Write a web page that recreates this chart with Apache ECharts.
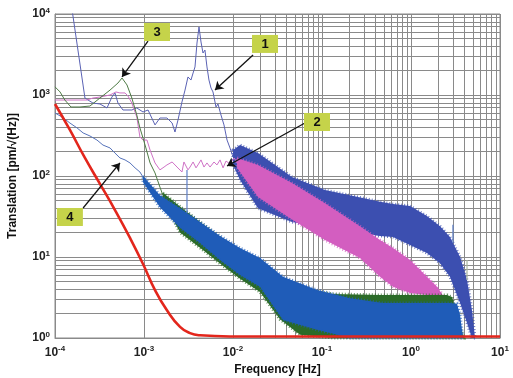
<!DOCTYPE html>
<html>
<head>
<meta charset="utf-8">
<script src="https://cdn.jsdelivr.net/npm/echarts/dist/echarts.min.js"></script>
<style>
html,body{margin:0;padding:0;background:#fff}
#chart{width:513px;height:378px}
</style>
</head>
<body>
<div id="chart"></div>
<script>
// frequency [Hz], value [pm/sqrt(Hz)]
var trace1Line = [[1.47e-4,17200],[2.17e-4,918],[2.35e-4,867],[2.67e-4,796],[3.2e-4,774],[3.84e-4,692],[4.36e-4,944],[4.72e-4,1060],[5.1e-4,796],[5.8e-4,653],[7.3e-4,653],[8.3e-4,692],[9.75e-4,617],[1.11e-3,653],[1.33e-3,427],[1.51e-3,520],[1.81e-3,520],[2.07e-3,451],[2.23e-3,349],[2.41e-3,491],[2.67e-3,820],[2.89e-3,1150],[3.12e-3,1670],[3.37e-3,1530],[3.56e-3,1870],[3.74e-3,2220],[3.94e-3,4380],[4.15e-3,6920],[4.37e-3,4510],[4.6e-3,3300],[4.84e-3,3590],[5.1e-3,2220],[5.37e-3,1530],[5.66e-3,1220],[5.96e-3,1090],[6.44e-3,711],[6.78e-3,774],[7.33e-3,566],[7.92e-3,427],[8.57e-3,278],[9.25e-3,222],[1e-2,172]];
// noisy part: [frequency, low edge, high edge]
var trace1Band = [[1e-2,137,209],[1.2e-2,89,241],[1.91e-2,40,192],[4.6e-2,27,97],[0.108,22.8,67],[0.254,19.8,55],[0.449,18.2,48],[0.628,17.7,45],[0.975,14.1,42.6],[1.51,11.2,32],[2.12,8.4,24],[2.74,5.7,17.7],[3.56,2.7,10],[4.26,1.53,5.2],[4.84,1.0,2.2],[5.24,1.0,1.0]];

var trace2Line = [[1e-4,867],[2.29e-4,867],[2.67e-4,918],[3.2e-4,944],[4.15e-4,1000],[4.84e-4,1090],[5.37e-4,1060],[6.12e-4,1060],[6.6e-4,972],[7.3e-4,796],[8.3e-4,535],[9.0e-4,303],[9.75e-4,278],[1.08e-3,278],[1.17e-3,209],[1.33e-3,145],[1.51e-3,119],[1.68e-3,129],[1.81e-3,137],[2.07e-3,149],[2.35e-3,129],[2.67e-3,112],[2.81e-3,149],[3.12e-3,119],[3.29e-3,129],[3.56e-3,149],[3.84e-3,126],[4.04e-3,137],[4.37e-3,158],[4.72e-3,129],[5.1e-3,145],[5.52e-3,129],[6.12e-3,149],[6.6e-3,137],[7.15e-3,158],[7.73e-3,126],[8.35e-3,153],[9.25e-3,141],[1.03e-2,167],[1.11e-2,145]];
var trace2Band = [[1.11e-2,126,167],[1.91e-2,55,137],[4.6e-2,29,82],[0.108,16.2,46],[0.267,9.7,24],[0.449,5.7,16.2],[0.628,4.3,12.9],[0.975,3.6,9.2],[1.51,3.4,5.7],[1.96,3.3,4.3],[2.23,3.3,3.5]];

var trace3Line = [[1e-4,1260],[1.14e-4,1090],[1.29e-4,867],[1.51e-4,711],[1.91e-4,711],[2.47e-4,731],[3.2e-4,918],[4.15e-4,1150],[5.1e-4,1406],[5.66e-4,1622],[6.44e-4,1330],[7.3e-4,918],[8.3e-4,566],[9.0e-4,392],[9.75e-4,294],[1.05e-3,222],[1.17e-3,145],[1.33e-3,109],[1.51e-3,73],[1.63e-3,58]];
var trace3Band = [[1.63e-3,51,62],[2.54e-3,20,42],[4.26e-3,13,27],[7.15e-3,8.3,17.5],[1.2e-2,5.4,11.5],[2.01e-2,3.7,8.2],[3.37e-2,1.7,5.6],[5.66e-2,1.1,4.0],[0.133,1.0,3.5],[0.449,1.0,3.4],[1.26,1.0,3.4],[2.54,1.0,3.4],[2.89,1.0,3.2],[3.2,1.0,2.2],[3.56,1.0,1.37],[3.94,1.0,1.0]];

var trace4Line = [[1e-4,600],[1.2e-4,535],[1.47e-4,451],[1.77e-4,392],[2.07e-4,340],[2.47e-4,312],[2.96e-4,278],[3.46e-4,241],[4.15e-4,222],[4.72e-4,192],[5.37e-4,167],[6.12e-4,158],[6.96e-4,145],[7.93e-4,126],[9.0e-4,112],[9.75e-4,97]];
var trace4Band = [[9.75e-4,84,100],[1.51e-3,41,58],[2.54e-3,23,40],[4.26e-3,14.9,27],[7.15e-3,9.2,18.2],[1.2e-2,6.0,12.9],[2.01e-2,4.3,9.7],[3.65e-2,1.67,5.7],[8.8e-2,1.26,3.9],[0.207,1.0,3.1],[0.484,1.0,2.7],[1.26,1.0,2.7],[2.74,1.0,2.7],[3.29,1.0,2.65],[3.56,1.0,1.92],[3.84,1.0,1.0]];

// single narrow spikes: [frequency, low, high]
var blueSpikes = [[3.04e-3,35,119],[2.96,15,25]];
var greySpikes = [[4.26,5.2,9.2]];

var redLine = [[1e-4,774],[1.47e-4,370],[2.17e-4,167],[3.2e-4,80],[4.72e-4,38],[6.96e-4,17.2],[9.75e-4,8.2],[1.33e-3,3.9],[1.81e-3,2.2],[2.54e-3,1.37],[3.29e-3,1.15],[4.26e-3,1.08],[9.2e-3,1.045],[10,1.045]];

// annotation boxes [label, frequency, value] and arrows [from, to]
var boxes = [['1',0.0229,4270],['2',0.0879,464],['3',1.4e-3,5990],['4',1.47e-4,31.2]];
var arrows = [
  [[0.0168,3120],[6.28e-3,1150]],
  [[0.0644,451],[8.57e-3,133]],
  [[1.11e-3,4640],[5.66e-4,1670]],
  [[2.07e-4,40.3],[5.37e-4,145]]
];

var FONT = 'Liberation Sans';
var GRID = '#8a8a8a';

// minor log grid (2..9 per decade)
var minorX = [], minorY = [];
for (var e = -4; e < 1; e++) for (var k = 2; k < 10; k++) minorX.push(k * Math.pow(10, e));
for (var e2 = 0; e2 < 4; e2++) for (var k2 = 2; k2 < 10; k2++) minorY.push(k2 * Math.pow(10, e2));
var gridLines = minorX.map(function (v) { return {xAxis: v}; })
  .concat(minorY.map(function (v) { return {yAxis: v}; }));

function powLabel(v) {
  var p = Math.round(Math.log10(v));
  return '{b|10}{s|' + p + '}';
}
var labelRich = {
  b: {fontFamily: FONT, fontWeight: 'bold', fontSize: 12, color: '#222', lineHeight: 15},
  s: {fontFamily: FONT, fontWeight: 'bold', fontSize: 8, color: '#222', verticalAlign: 'top', lineHeight: 9}
};

function lineSeries(data, color, width, z) {
  return {
    type: 'line', data: data, showSymbol: false, silent: true, z: z,
    lineStyle: {color: color, width: width}, itemStyle: {color: color},
    animation: false
  };
}

// filled band between low and high edges, with a ragged (dashed) outline for the noise
function bandSeries(band, color, z) {
  return {
    type: 'custom', data: band, silent: true, z: z, animation: false,
    encode: {x: 0, y: [1, 2]},
    renderItem: function (params, api) {
      if (params.dataIndex !== 0) return null;
      var top = [], bot = [];
      band.forEach(function (d) {
        top.push(api.coord([d[0], d[2]]));
        bot.unshift(api.coord([d[0], d[1]]));
      });
      var pts = top.concat(bot);
      return {
        type: 'group',
        children: [
          {type: 'polygon', shape: {points: pts}, style: {fill: color}},
          {type: 'polygon', shape: {points: pts},
            style: {fill: null, stroke: color, lineWidth: 3, lineDash: [1, 2], opacity: 0.75}}
        ]
      };
    }
  };
}

function spikeSeries(data, color, z) {
  return {
    type: 'custom', data: data, silent: true, z: z, animation: false,
    encode: {x: 0, y: [1, 2]},
    renderItem: function (params, api) {
      var a = api.coord([api.value(0), api.value(1)]);
      var b = api.coord([api.value(0), api.value(2)]);
      return {type: 'line', shape: {x1: a[0], y1: a[1], x2: b[0], y2: b[1]},
        style: {stroke: color, lineWidth: 1.2}};
    }
  };
}

var chart = echarts.init(document.getElementById('chart'), null, {renderer: 'canvas'});

var t1 = lineSeries(trace1Line, '#5a62b4', 1, 3);
t1.markLine = {
  silent: true, z: 1, symbol: ['none', 'none'], animation: false,
  label: {show: false},
  lineStyle: {color: GRID, width: 1, type: 'solid'},
  emphasis: {disabled: true},
  data: gridLines
};

var red = lineSeries(redLine, '#e3261c', 2.6, 12);
red.smooth = true;
red.markLine = {
  silent: true, z: 20, symbol: ['none', 'arrow'], symbolSize: 8, animation: false,
  label: {show: false},
  lineStyle: {color: '#111', width: 1.3, type: 'solid'},
  emphasis: {disabled: true},
  data: arrows.map(function (a) { return [{coord: a[0]}, {coord: a[1]}]; })
};
red.markPoint = {
  silent: true, z: 21, symbol: 'rect', symbolSize: [26, 18], animation: false,
  itemStyle: {color: '#c5d34a'},
  label: {show: true, position: 'inside', color: '#111', fontFamily: FONT, fontWeight: 'bold', fontSize: 13,
    formatter: function (p) { return p.name; }},
  data: boxes.map(function (b) { return {name: b[0], coord: [b[1], b[2]]}; })
};

var option = {
  backgroundColor: '#fff',
  animation: false,
  grid: {left: 55, right: 13, top: 14, bottom: 40, show: true, borderColor: GRID, borderWidth: 1, outerBoundsMode: 'none'},
  xAxis: {
    type: 'log', logBase: 10, min: 1e-4, max: 10, splitNumber: 5,
    axisLine: {show: true, lineStyle: {color: GRID}},
    axisTick: {show: false},
    splitLine: {show: true, lineStyle: {color: GRID, width: 1}},
    axisLabel: {margin: 7, formatter: powLabel, rich: labelRich},
    name: 'Frequency [Hz]', nameLocation: 'middle', nameGap: 26,
    nameTextStyle: {fontFamily: FONT, fontWeight: 'bold', fontSize: 12, color: '#111'}
  },
  yAxis: {
    type: 'log', logBase: 10, min: 1, max: 1e4, splitNumber: 4,
    axisLine: {show: true, lineStyle: {color: GRID}},
    axisTick: {show: false},
    splitLine: {show: true, lineStyle: {color: GRID, width: 1}},
    axisLabel: {margin: 5, formatter: powLabel, rich: labelRich},
    name: 'Translation [pm/\u221A(Hz)]', nameLocation: 'middle', nameGap: 36, nameRotate: 90,
    nameTextStyle: {fontFamily: FONT, fontWeight: 'bold', fontSize: 12, color: '#111'}
  },
  series: [
    t1,
    bandSeries(trace1Band, '#3c4fb0', 3),
    lineSeries(trace2Line, '#cf72c6', 1, 4),
    bandSeries(trace2Band, '#d35ec0', 4),
    lineSeries(trace3Line, '#4f7c46', 1, 5),
    bandSeries(trace3Band, '#2b6b28', 5),
    lineSeries(trace4Line, '#5673bb', 1, 6),
    bandSeries(trace4Band, '#1f5cb8', 6),
    spikeSeries(blueSpikes, '#5d7fc8', 7),
    spikeSeries(greySpikes, '#a9b7a2', 7),
    red
  ]
};
chart.setOption(option);

window.addEventListener('resize', function () {
  chart.resize();
});
</script>
</body>
</html>
